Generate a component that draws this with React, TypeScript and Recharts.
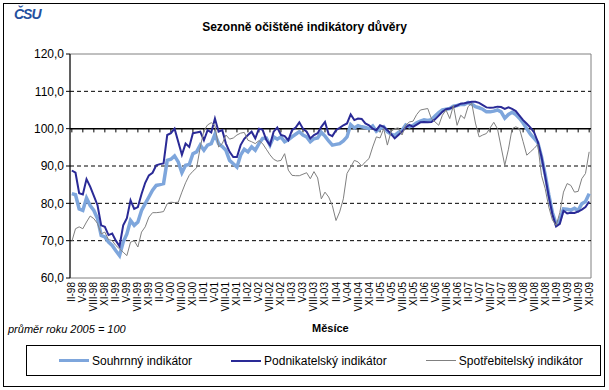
import { LineChart, Line, XAxis, YAxis, ReferenceLine, ReferenceArea } from "recharts"

const romans = ["I", "II", "III", "IV", "V", "VI", "VII", "VIII", "IX", "X", "XI", "XII"]

// months II-98 .. XI-09
const months: string[] = []
for (let k = 1; k <= 142; k++) {
    const m = k % 12
    const y = 1998 + Math.floor(k / 12)
    months.push(romans[m] + "-" + String(y % 100).padStart(2, "0"))
}

const souhrnny = [
    82.6, 82.3, 78.5, 78.1, 81.4, 79.4, 78.1, 75.9, 71.4, 71.0, 69.6, 68.7,
    67.3, 66.0, 69.6, 71.8, 75.4, 74.1, 75.0, 78.1, 79.9, 81.7, 83.5, 84.8,
    85.0, 85.3, 91.5, 91.8, 92.7, 91.1, 88.2, 90.2, 90.4, 93.3, 93.8, 95.6,
    94.2, 95.6, 96.0, 98.5, 96.0, 95.2, 94.2, 91.5, 90.6, 89.7, 92.9, 94.5,
    93.8, 95.1, 94.2, 96.0, 97.4, 97.5, 95.6, 97.8, 97.2, 97.8, 96.5, 97.0,
    97.8, 98.5, 99.2, 98.3, 97.8, 96.5, 97.3, 97.5, 99.0, 98.0, 96.7, 95.6,
    95.8, 96.0, 96.7, 97.8, 101.1, 100.2, 100.8, 100.5, 100.3, 100.0, 100.7, 99.3,
    100.0, 100.5, 99.2, 98.5, 98.2, 99.0, 99.6, 101.0, 100.5, 100.9, 101.6, 102.0,
    102.4, 102.2, 102.4, 103.4, 104.3, 105.0, 105.2, 105.4, 106.0, 106.2, 106.5, 106.5,
    107.0, 106.6, 105.9, 105.6, 105.2, 104.5, 104.5, 104.7, 105.0, 104.5, 102.8, 103.8,
    104.4, 103.8, 102.8, 101.5, 100.0, 98.5, 97.4, 96.3, 92.5, 87.8, 82.3, 77.5,
    74.4, 75.5, 78.5, 78.4, 78.2, 78.7, 78.1, 79.9, 80.5, 82.6
]

const podnikatelsky = [
    88.8, 88.2, 82.7, 82.4, 86.5, 84.5, 82.0, 79.5, 74.1, 73.7, 71.5, 71.9,
    70.0, 68.5, 74.1, 76.0, 80.8, 78.5, 79.0, 82.5, 85.5, 87.5, 88.2, 90.2,
    90.5, 90.7, 98.3, 98.8, 100.0, 96.5, 93.0, 96.0, 95.1, 98.8, 99.0, 99.2,
    96.9, 99.6, 99.0, 102.7, 99.2, 99.6, 96.0, 93.8, 92.4, 92.4, 95.6, 97.3,
    98.3, 99.2, 97.4, 100.0, 99.7, 97.0, 95.6, 99.2, 100.3, 98.3, 98.0, 96.9,
    99.6, 100.3, 101.7, 100.0, 99.2, 97.4, 98.3, 98.8, 100.5, 101.8, 98.5, 98.0,
    99.6, 100.2, 100.9, 101.4, 103.8, 102.3, 102.7, 102.6, 101.4, 100.9, 100.0, 99.6,
    100.9, 100.5, 99.6, 98.6, 97.4, 98.3, 99.2, 100.3, 101.0, 100.5, 101.1, 101.7,
    101.8, 101.7, 101.8, 102.5, 103.5, 104.5, 105.2, 105.4, 105.8, 106.2, 106.7, 106.8,
    107.0, 107.2, 107.2, 106.9, 106.3, 105.7, 105.6, 105.7, 105.9, 105.8, 105.3, 105.7,
    105.3, 104.7, 103.5, 102.3, 101.3, 100.3, 99.0, 96.5, 92.5, 87.3, 81.8, 77.0,
    73.8, 74.5, 78.0, 77.3, 77.5, 77.4, 77.8, 78.3, 79.0, 80.5
]

const spotrebitelsky = [
    69.8, 73.2, 73.7, 73.2, 75.0, 76.6, 75.9, 74.6, 71.8, 72.3, 70.3, 70.0,
    68.7, 67.8, 66.9, 66.0, 69.6, 70.0, 68.3, 72.3, 73.7, 76.3, 77.5, 77.5,
    77.6, 77.8, 79.9, 80.3, 80.2, 80.3, 83.0, 85.5, 87.5, 88.6, 89.5, 95.0,
    99.5, 101.0, 101.6, 100.8, 95.1, 96.0, 98.3, 97.2, 97.5, 98.3, 98.8, 99.0,
    96.9, 96.5, 96.0, 96.8, 96.0, 94.5, 93.0, 91.8, 91.3, 91.5, 93.3, 88.9,
    87.5, 87.4, 87.4, 87.8, 88.2, 86.6, 88.5, 86.8, 81.2, 83.0, 81.7, 79.4,
    75.4, 77.7, 81.2, 88.0, 89.7, 91.5, 91.1, 90.0, 91.1, 92.0, 95.1, 97.8,
    97.5, 100.0, 95.6, 99.2, 100.0, 100.2, 98.3, 100.9, 101.8, 102.0, 103.8, 105.0,
    105.2, 105.4, 102.7, 101.8, 100.9, 103.6, 105.0, 102.7, 106.2, 100.9, 103.6, 102.7,
    105.9, 106.8, 101.5, 97.8, 98.3, 98.7, 100.2, 101.7, 100.0, 95.1, 90.2, 94.5,
    100.0, 100.5, 100.0, 96.5, 92.9, 93.8, 94.7, 95.8, 87.5, 84.0, 79.0, 75.5,
    74.1, 77.5, 83.0, 85.3, 84.8, 83.0, 83.2, 86.6, 88.0, 93.8
]

const yTicks = [60, 70, 80, 90, 100, 110, 120]
const gridValues = [70, 80, 90, 110]
const tickIdx = months.map((_, i) => i).filter(i => i % 3 === 0)

const data = months.map((m, i) => ({
    i,
    month: m,
    souhrnny: souhrnny[i],
    podnikatelsky: podnikatelsky[i],
    spotrebitelsky: spotrebitelsky[i]
}))

const series = [
    { key: "souhrnny", name: "Souhrnný indikátor", color: "#7ea6dc", width: 3.5 },
    { key: "podnikatelsky", name: "Podnikatelský indikátor", color: "#2a2a96", width: 2 },
    { key: "spotrebitelsky", name: "Spotřebitelský indikátor", color: "#808080", width: 1 }
]

const font = "Arial, 'Liberation Sans', sans-serif"

const MonthTick = (props: any) => {
    const { x, y, payload } = props
    return (
        <text
            x={x}
            y={y}
            transform={`rotate(-90 ${x} ${y})`}
            textAnchor="end"
            dominantBaseline="central"
            fontSize={10}
            fontFamily={font}
            fill="#000"
        >
            {months[payload.value]}
        </text>
    )
}

export default function App() {

    return (

        <div style={{ position: "absolute", left: 0, top: 0, width: 609, height: 390, background: "#fff", fontFamily: font }}>

            <div style={{ position: "absolute", left: 3, top: 3, width: 600, height: 382, border: "1px solid #000" }} />

            <div style={{ position: "absolute", left: 14, top: 6, fontSize: 14, fontWeight: 900, fontStyle: "italic", color: "#24509e", letterSpacing: -1 }}>
                ČSU
            </div>

            <div style={{ position: "absolute", left: 0, width: 609, top: 20, textAlign: "center", fontSize: 12, fontWeight: "bold" }}>
                Sezonně očištěné indikátory důvěry
            </div>

            <LineChart
                width={609}
                height={390}
                data={data}
                margin={{ top: 54, right: 18, bottom: 72, left: 0 }}
                style={{ position: "absolute", left: 0, top: 0 }}
            >

                <ReferenceArea y1={60} y2={120} fill="none" stroke="#808080" />

                {gridValues.map(v => (
                    <ReferenceLine key={v} y={v} stroke="#000" strokeDasharray="4 3" />
                ))}

                <ReferenceLine y={100} stroke="#000" strokeWidth={1.5} />

                {tickIdx.map(i => (
                    <ReferenceLine key={"t" + i} segment={[{ x: i, y: 100 }, { x: i, y: 99 }]} stroke="#000" />
                ))}

                <XAxis
                    type="number"
                    dataKey="i"
                    domain={[-0.5, 141.5]}
                    ticks={tickIdx}
                    interval={0}
                    axisLine={false}
                    tickLine={false}
                    tickSize={0}
                    tickMargin={4}
                    height={40}
                    tick={<MonthTick />}
                />

                <YAxis
                    domain={[60, 120]}
                    ticks={yTicks}
                    interval={0}
                    width={70}
                    tickSize={4}
                    tickMargin={2}
                    axisLine={{ stroke: "#000" }}
                    tickLine={{ stroke: "#000" }}
                    tick={{ fontSize: 12, fill: "#000", fontFamily: font }}
                    tickFormatter={(v: number) => v.toFixed(1).replace(".", ",")}
                />

                {series.map(s => (
                    <Line
                        key={s.key}
                        type="linear"
                        dataKey={s.key}
                        name={s.name}
                        stroke={s.color}
                        strokeWidth={s.width}
                        dot={false}
                        isAnimationActive={false}
                    />
                ))}

            </LineChart>

            <div style={{ position: "absolute", left: 8, top: 323, fontSize: 11, fontStyle: "italic" }}>
                průměr roku 2005 = 100
            </div>

            <div style={{ position: "absolute", left: 312, top: 322, fontSize: 11, fontWeight: "bold" }}>
                Měsíce
            </div>

            <div style={{ position: "absolute", left: 26, top: 345, width: 575, height: 31, border: "1px solid #000", display: "flex", alignItems: "center", paddingLeft: 32, boxSizing: "border-box", gap: 39 }}>
                {series.map(s => (
                    <div key={s.key} style={{ display: "flex", alignItems: "center", fontSize: 12 }}>
                        <div style={{ width: 30, height: s.width, background: s.color, marginRight: 3 }} />
                        {s.name}
                    </div>
                ))}
            </div>

        </div>

    )

}
